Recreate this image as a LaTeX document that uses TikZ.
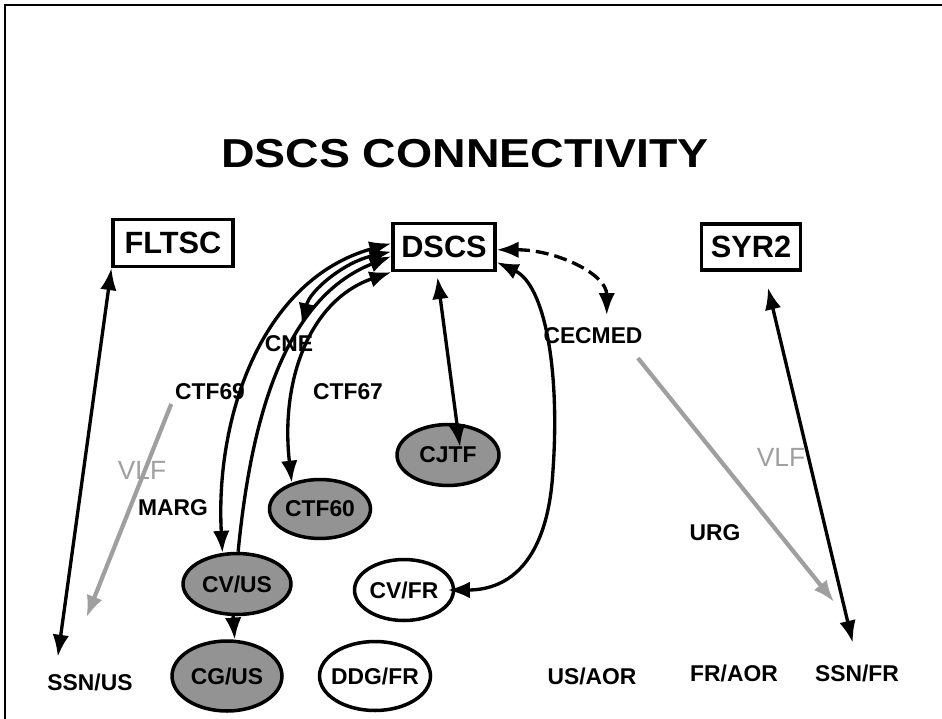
\documentclass[tikz,border=0pt]{standalone}
\usepackage{fontspec}
\setmainfont{Liberation Sans}
\newfontfamily\titlefont[FakeStretch=1.15]{Liberation Sans}
\usetikzlibrary{%
  shapes,
  arrows.meta,
  positioning,
  calc
}
\tikzstyle{sitebox} = [draw, rectangle, line width=1.8pt, inner sep=0pt, font=\fontsize{17.5}{20}\selectfont\bfseries]
\tikzstyle{shipgray} = [draw, ellipse, line width=2pt, fill=gray!85, inner xsep=-3pt, inner ysep=0pt, font=\fontsize{13}{15}\selectfont\bfseries]
\tikzstyle{shipwhite} = [shipgray, fill=white]
\tikzstyle{tag} = [inner sep=2pt, font=\fontsize{13}{15}\selectfont\bfseries]
\tikzstyle{vlftag} = [inner sep=2pt, text=gray!75, font=\fontsize{15}{17}\selectfont]
\tikzstyle{link} = [line width=1.9pt]
\tikzstyle{vlflink} = [draw=gray!75, line width=2.4pt, ->]

\begin{document}
\begin{tikzpicture}[x=0.02cm, y=-0.02cm, >={Latex[length=4.4mm,width=3.3mm]}]
        \useasboundingbox (0,0) rectangle (942,719);
        \draw[line width=1.2pt] (5,719) -- (5,5) -- (942,5);
        \node[font=\titlefont\fontsize{23}{26}\selectfont\bfseries] (title) at (465,154) {DSCS CONNECTIVITY};
        % terminals
        \node[sitebox, minimum width=2.4cm, minimum height=0.94cm] (fltsc) at (173,243) {FLTSC};
        \node[sitebox, minimum width=2.04cm, minimum height=0.94cm] (dscs) at (444,247) {DSCS};
        \node[sitebox, minimum width=1.98cm, minimum height=0.92cm] (syr2) at (751,247) {SYR2};
        % ships
        \node[shipgray, minimum width=2.04cm, minimum height=1.22cm] (cjtf) at (448,455) {CJTF};
        \node[shipgray, minimum width=2.02cm, minimum height=1.18cm] (ctf60) at (320,509) {CTF60};
        \node[shipgray, minimum width=2.16cm, minimum height=1.22cm] (cvus) at (237,584) {CV/US};
        \node[shipwhite, minimum width=1.98cm, minimum height=1.22cm] (cvfr) at (404,590) {CV/FR};
        \node[shipgray, minimum width=2.2cm, minimum height=1.4cm] (cgus) at (227,676) {CG/US};
        \node[shipwhite, minimum width=2.22cm, minimum height=1.38cm] (ddgfr) at (375,676) {DDG/FR};
        % labels
        \node[tag] (cne) at (289,344) {CNE};
        \node[tag] (ctf69) at (210,392) {CTF69};
        \node[tag] (ctf67) at (348,392) {CTF67};
        \node[tag] (cecmed) at (593,336) {CECMED};
        \node[tag] (marg) at (173,508) {MARG};
        \node[tag] (urg) at (715,533) {URG};
        \node[vlftag] (vlfus) at (142,470) {VLF};
        \node[vlftag] (vlffr) at (781,457) {VLF};
        \node[tag] (ssnus) at (90,682) {SSN/US};
        \node[tag] (usaor) at (592,676) {US/AOR};
        \node[tag] (fraor) at (734,673) {FR/AOR};
        \node[tag] (ssnfr) at (857,673) {SSN/FR};
        % links
        \draw[link, <->, shorten >=2.6mm] (fltsc.south west) -- (ssnus.160);
        \draw[vlflink, shorten >=11.2mm] (ctf69.south west) -- (ssnus.153);
        \draw[link, <->, shorten <=3.3mm, shorten >=3.7mm] (syr2.298) -- (ssnfr.north);
        \draw[vlflink, shorten <=2.6mm, shorten >=15mm] (cecmed.-18) -- (ssnfr.27);
        \draw[link, <->, dash pattern=on 2.6mm off 1.2mm, shorten >=1.8mm] (dscs.357) .. controls +(60,0) and +(0,-50) .. (cecmed.41);
        \draw[link, <->, shorten <=1mm] (dscs.254) -- ($(cjtf)+(12,-8)$);
        \draw[link, <->, shorten >=-1.5mm] (dscs.344) .. controls (545,285) and (560,370) .. (553,470) .. controls (548,560) and (510,590) .. (cvfr.east);
        \draw[link, <->] (cvus.115) .. controls (215,420) and (260,280) .. (dscs.176);
        \draw[link, <->, shorten >=1.4mm] (dscs.185) .. controls (345,262) and (310,290) .. (cne.47);
        \draw[link, ->] (cvus.88) .. controls (250,430) and (280,300) .. (dscs.190);
        \draw[link, <->] (ctf60.137) .. controls (280,380) and (310,300) .. (dscs.south west);
        \draw[link, ->] (cvus.263) -- (cgus.78);
      \end{tikzpicture}
\end{document}
